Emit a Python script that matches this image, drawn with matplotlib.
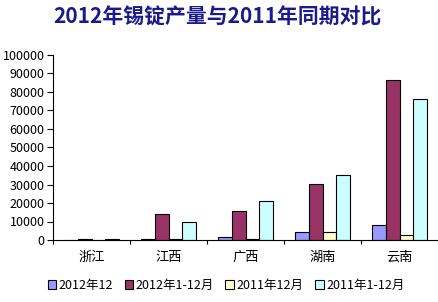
import numpy as np
import matplotlib.pyplot as plt

plt.rcParams['font.family'] = ['Noto Sans CJK SC', 'DejaVu Sans']

provinces = ['浙江', '江西', '广西', '湖南', '云南']
series_names = ['2012年12', '2012年1-12月', '2011年12月', '2011年1-12月']
dec_2012 = [30, 800, 1500, 4300, 7900]
ytd_2012 = [500, 14000, 15700, 30300, 86300]
dec_2011 = [30, 400, 600, 4300, 2500]
ytd_2011 = [400, 9600, 20900, 35100, 76000]
colors = ['#9999FF', '#993366', '#FFFFCC', '#CCFFFF']

fig = plt.figure(figsize=(4.39, 3.02), dpi=100)
ax = fig.add_axes([53/439, 62/302, 385/439, 185/302])

x = np.arange(len(provinces))
w = 0.178
allvals = [dec_2012, ytd_2012, dec_2011, ytd_2011]
for i, vals in enumerate(allvals):
	ax.bar(x + (i - 1.5) * w, vals, w, color=colors[i], edgecolor='black',
		linewidth=0.8, label=series_names[i])

ax.set_xlim(-0.5, len(provinces) - 0.5)
ax.set_ylim(0, 100000)
ax.set_yticks(range(0, 100001, 10000))
ax.set_yticklabels([str(v) for v in range(0, 100001, 10000)], fontsize=9)
ax.set_xticks(x)
ax.set_xticklabels(provinces, fontsize=9.5)
ax.set_xticks(np.arange(-0.5, len(provinces), 1), minor=True)
ax.tick_params(axis='x', which='major', length=0, pad=8)
ax.tick_params(axis='x', which='minor', length=3, direction='out', width=0.8)
ax.tick_params(axis='y', length=4, direction='out', width=0.8, pad=2)
for s in ['top', 'right']:
	ax.spines[s].set_visible(False)
for s in ['left', 'bottom']:
	ax.spines[s].set_linewidth(0.8)

fig.text(0.495, 0.945, '2012年锡锭产量与2011年同期对比', ha='center', va='center',
	fontsize=15, fontweight='bold', color='#1a1a8c')

fig.legend(loc='center', bbox_to_anchor=(0.515, 0.055), ncol=4, frameon=False,
	fontsize=9, handlelength=0.7, handleheight=0.7, handletextpad=0.2,
	columnspacing=0.9)

fig.savefig('out.png', dpi=100)
